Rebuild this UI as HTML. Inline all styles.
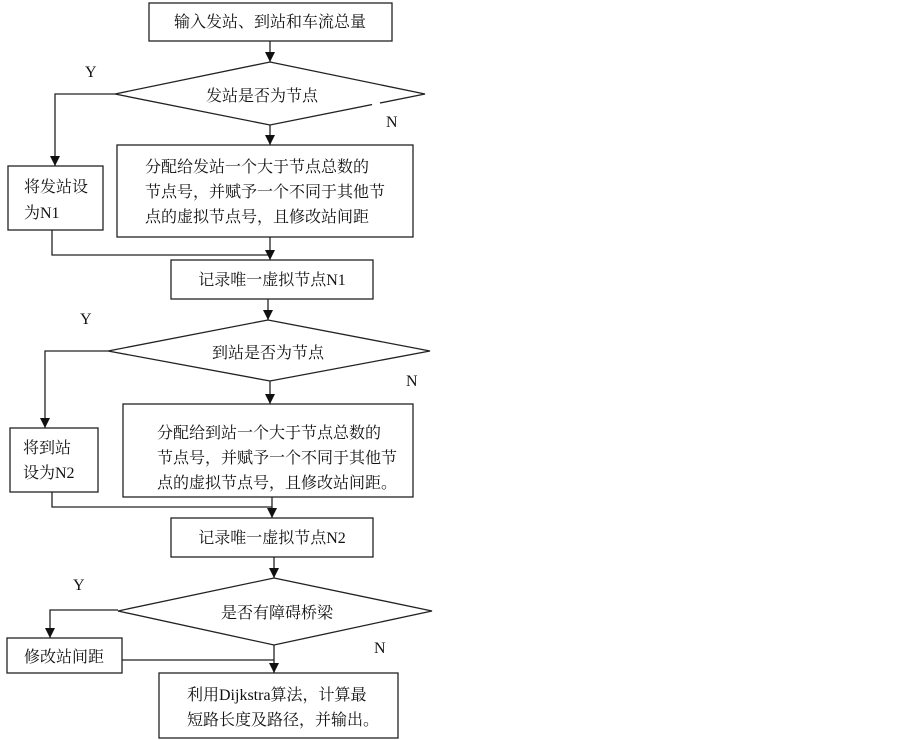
<!DOCTYPE html>
<html><head><meta charset="utf-8"><style>
html,body{margin:0;padding:0;background:#fff;}
svg{display:block;}
text{font-family:"Liberation Serif","Noto Serif CJK SC","Noto Sans CJK SC",serif;font-size:16px;fill:#111;}
</style></head><body>
<svg width="903" height="740" viewBox="0 0 903 740" xmlns="http://www.w3.org/2000/svg">
<defs><marker id="a" markerWidth="12" markerHeight="12" refX="10" refY="5" orient="auto" markerUnits="userSpaceOnUse"><path d="M0,0 L10,5 L0,10 z" fill="#111"/></marker></defs>
<g stroke="#222" stroke-width="1.3" fill="none">
<rect x="149" y="3" width="243" height="38" fill="#fff"/>
<line x1="270" y1="41" x2="270" y2="62" marker-end="url(#a)"/>
<polygon points="270,62 425,94 270,125 115,94" fill="#fff"/>
<polyline points="115,94 55,94 55,166" marker-end="url(#a)"/>
<rect x="8" y="166" width="95" height="64" fill="#fff"/>
<line x1="270" y1="125" x2="270" y2="145" marker-end="url(#a)"/>
<rect x="117" y="145" width="296" height="92" fill="#fff"/>
<polyline points="52,230 52,255 270,255"/>
<line x1="270" y1="237" x2="270" y2="260" marker-end="url(#a)"/>
<rect x="171" y="260" width="202" height="39" fill="#fff"/>
<line x1="268" y1="299" x2="268" y2="320" marker-end="url(#a)"/>
<polygon points="268,320 430,351 270,381 108,351" fill="#fff"/>
<polyline points="108,351 45,351 45,428" marker-end="url(#a)"/>
<rect x="10" y="428" width="88" height="64" fill="#fff"/>
<line x1="270" y1="381" x2="270" y2="404" marker-end="url(#a)"/>
<rect x="123" y="404" width="290" height="93" fill="#fff"/>
<polyline points="52,492 52,507 272,507"/>
<line x1="272" y1="497" x2="272" y2="518" marker-end="url(#a)"/>
<rect x="171" y="518" width="202" height="39" fill="#fff"/>
<line x1="274" y1="557" x2="274" y2="578" marker-end="url(#a)"/>
<polygon points="274,578 432,611 274,645 118,611" fill="#fff"/>
<polyline points="118,610 50,610 50,638" marker-end="url(#a)"/>
<rect x="7" y="638" width="115" height="35" fill="#fff"/>
<polyline points="122,660 274,660"/>
<line x1="274" y1="645" x2="274" y2="673" marker-end="url(#a)"/>
<rect x="159" y="673" width="239" height="65" fill="#fff"/>
</g>
<line x1="372" y1="104" x2="380" y2="103" stroke="#fff" stroke-width="3"/>
<text x="270" y="27" text-anchor="middle">输入发站、到站和车流总量</text>
<text x="85" y="77">Y</text>
<text x="386" y="127">N</text>
<text x="262" y="101" text-anchor="middle">发站是否为节点</text>
<text x="24" y="192">将发站设</text>
<text x="24" y="218">为N1</text>
<text x="145" y="172">分配给发站一个大于节点总数的</text>
<text x="145" y="197">节点号，并赋予一个不同于其他节</text>
<text x="145" y="222">点的虚拟节点号，且修改站间距</text>
<text x="272" y="285" text-anchor="middle">记录唯一虚拟节点N1</text>
<text x="80" y="324">Y</text>
<text x="406" y="386">N</text>
<text x="268" y="358" text-anchor="middle">到站是否为节点</text>
<text x="23" y="453">将到站</text>
<text x="23" y="478">设为N2</text>
<text x="157" y="438">分配给到站一个大于节点总数的</text>
<text x="157" y="463">节点号，并赋予一个不同于其他节</text>
<text x="157" y="488">点的虚拟节点号，且修改站间距。</text>
<text x="272" y="543" text-anchor="middle">记录唯一虚拟节点N2</text>
<text x="73" y="590">Y</text>
<text x="374" y="653">N</text>
<text x="277" y="618" text-anchor="middle">是否有障碍桥梁</text>
<text x="24" y="662">修改站间距</text>
<text x="187" y="700">利用Dijkstra算法，计算最</text>
<text x="187" y="725">短路长度及路径，并输出。</text>
</svg>
</body></html>
